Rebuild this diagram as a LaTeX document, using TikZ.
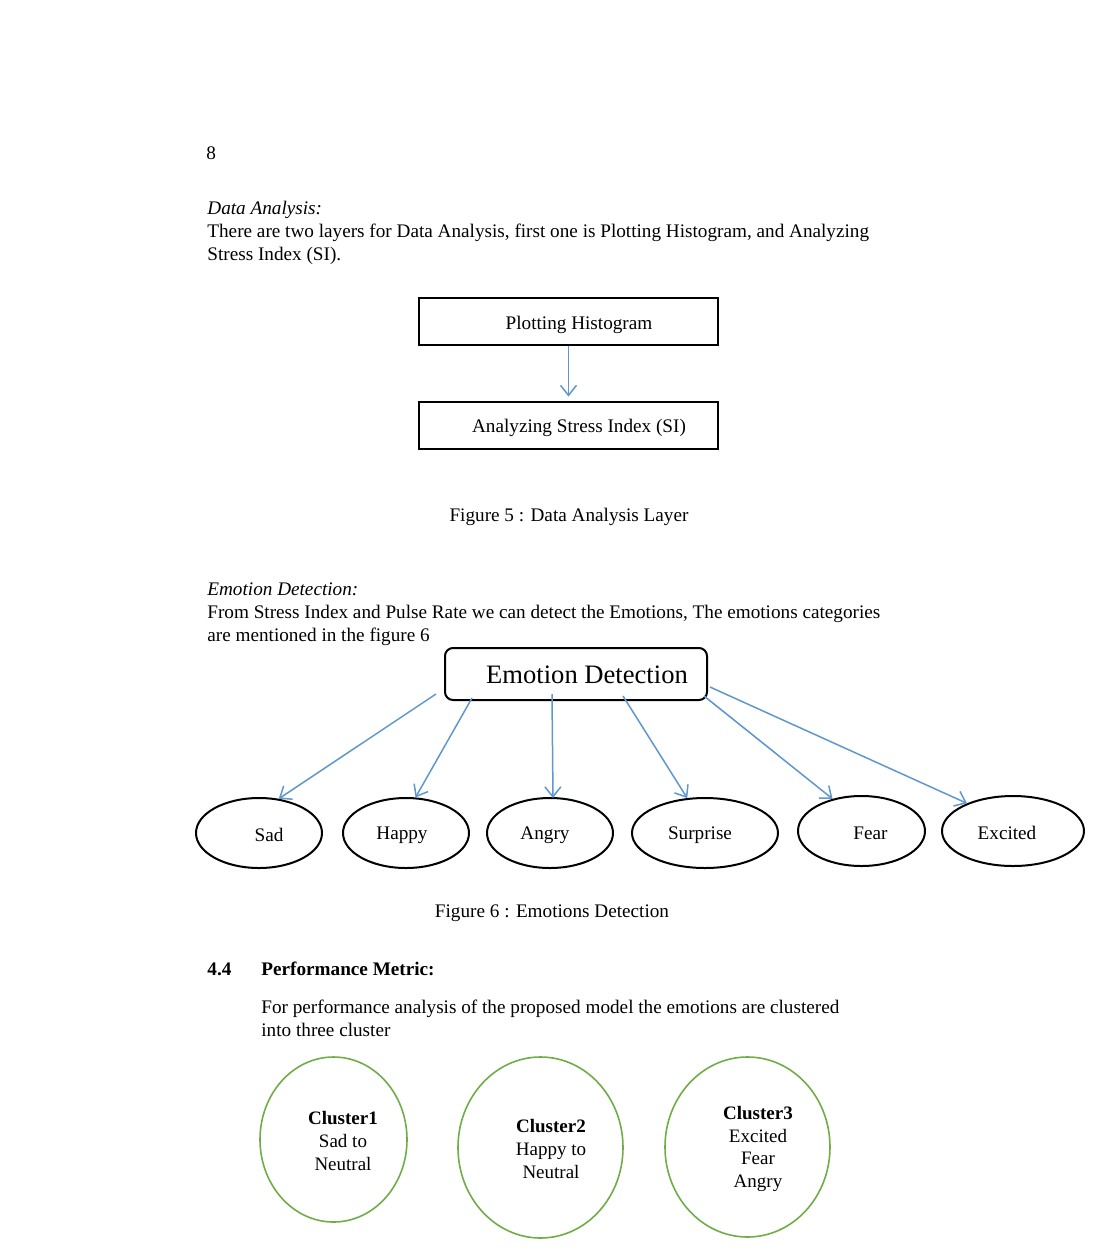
\documentclass[tikz,border=0pt]{standalone}
\usepackage{fontspec}
\setmainfont{Liberation Serif}
\usetikzlibrary{arrows.meta,shapes.geometric,calc}
\definecolor{arrblue}{RGB}{96,152,206}
\definecolor{clgreen}{RGB}{112,173,71}
\newcommand{\lowerby}[2]{\raisebox{-#1}[\height][\depth]{#2}}
\begin{document}
\begin{tikzpicture}[x=0.5pt,y=-0.5pt,
  body/.style={font=\fontsize{9.6}{11.5}\selectfont},
  txt/.style={body,anchor=base west,inner sep=0pt},
  ctxt/.style={body,anchor=base,inner sep=0pt},
  rectbox/.style={draw,line width=1pt,minimum width=149.5pt,minimum height=23.5pt,inner sep=0pt,body},
  edbox/.style={draw,line width=1pt,rounded corners=4pt,minimum width=131pt,minimum height=26pt,inner sep=0pt,font=\fontsize{13.3}{15}\selectfont},
  emo/.style={draw,ellipse,line width=1pt,minimum height=35pt,inner sep=0pt,body},
  clus/.style={draw=clgreen,ellipse,line width=0.8pt,inner sep=0pt},
  clt/.style={body,align=center,inner sep=0pt,font=\fontsize{9.5}{11.3}\selectfont},
  arr/.style={draw=arrblue,line width=0.75pt,-{Straight Barb[length=5pt,width=8pt,line width=0.75pt]}}
]
\useasboundingbox (0,0) rectangle (1100,1260);
\fill[white] (0,0) rectangle (1100,1260);

\node[txt] (pg) at (206,159) {8};
\node[txt,font=\fontsize{9.6}{11.5}\selectfont\itshape] (dah) at (207,214) {Data Analysis:};
\node[txt] (dal1) at (207,237) {There are two layers for Data Analysis, first one is Plotting Histogram, and Analyzing};
\node[txt] (dal2) at (207,260) {Stress Index (SI).};

\node[rectbox] (b1) at (568.5,321.5) {\lowerby{1.5pt}{\hspace*{10.5pt}Plotting Histogram}};
\node[rectbox] (b2) at (568.5,425) {\lowerby{1.5pt}{\hspace*{10.5pt}Analyzing Stress Index (SI)}};
\draw[arr,shorten >=2pt] (b1) -- (b2);

\node[ctxt] (f5) at (569,521) {Figure 5 : Data Analysis Layer};

\node[txt,font=\fontsize{9.6}{11.5}\selectfont\itshape] (edh) at (207,595) {Emotion Detection:};
\node[txt] (edl1) at (207,618) {From Stress Index and Pulse Rate we can detect the Emotions, The emotions categories};
\node[txt] (edl2) at (207,641) {are mentioned in the figure 6};

\node[edbox] (ed) at (576,674) {\lowerby{0.5pt}{\hspace*{11pt}Emotion Detection}};

\node[emo,minimum width=63pt] (sad) at (259,833) {\lowerby{1pt}{\hspace*{10pt}Sad}};
\node[emo,minimum width=63pt] (happy) at (406,833) {\lowerby{1pt}{Happy\hspace*{4pt}}};
\node[emo,minimum width=63pt] (angry) at (550,833) {\lowerby{1pt}{Angry\hspace*{5pt}}};
\node[emo,minimum width=73pt] (surprise) at (705,833) {\lowerby{1pt}{Surprise\hspace*{5pt}}};
\node[emo,minimum width=63.5pt] (fear) at (861.5,831) {\lowerby{1pt}{\hspace*{9pt}Fear}};
\node[emo,minimum width=71pt] (excited) at (1013,831) {\lowerby{1pt}{Excited\hspace*{6pt}}};

\draw[arr] ($(ed.south west)+(-8,-7)$) -- (sad.60);
\draw[arr] ($(ed.south west)+(28,-3)$) -- (happy.75);
\draw[arr] ($(ed.south west)+(108,-7)$) -- ($(angry.north)+(3,1)$);
\draw[arr] ($(ed.south west)+(179,-5)$) -- (surprise.117);
\draw[arr] ($(ed.south east)+(-4,-5)$) -- (fear.132);
\draw[arr] ($(ed.south east)+(2,-14)$) -- (excited.149);

\node[ctxt] (f6) at (552,917) {Figure 6 : Emotions Detection};

\node[txt,font=\fontsize{9.6}{11.5}\selectfont\bfseries] (sn) at (207,975) {4.4};
\node[txt,font=\fontsize{9.6}{11.5}\selectfont\bfseries] (st) at (261,975) {Performance Metric:};
\node[txt] (pm1) at (261,1013) {For performance analysis of the proposed model the emotions are clustered};
\node[txt] (pm2) at (261,1036) {into three cluster};

\node[clus,minimum width=73.5pt,minimum height=82.5pt] (c1) at (333.5,1139.5) {};
\node[clus,minimum width=82.5pt,minimum height=90.5pt] (c2) at (540.5,1147.5) {};
\node[clus,minimum width=82.5pt,minimum height=90pt] (c3) at (747.5,1147) {};

\node[clt] (c1t) at (343,1141) {\textbf{Cluster1}\\Sad to\\Neutral};
\node[clt] (c2t) at (551,1149) {\textbf{Cluster2}\\Happy to\\Neutral};
\node[clt] (c3t) at (758,1149) {\textbf{Cluster3}\\Excited\\Fear\\Angry};
\end{tikzpicture}
\end{document}
